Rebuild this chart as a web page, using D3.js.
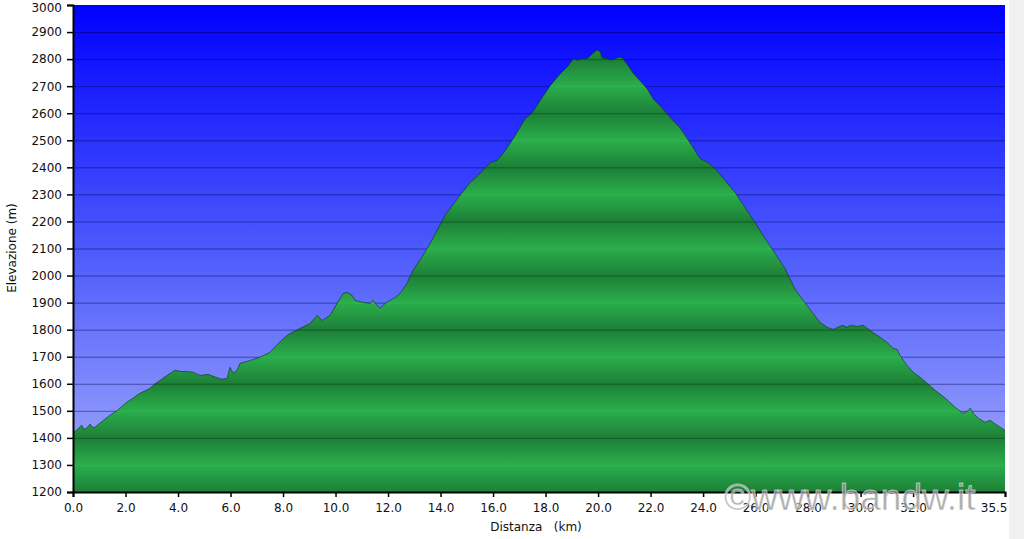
<!DOCTYPE html>
<html><head><meta charset="utf-8">
<script src="https://cdn.jsdelivr.net/npm/d3@7"></script>
<style>
html,body{margin:0;padding:0;background:#fff;}
svg{display:block;}
text{font-family:"DejaVu Sans",Verdana,sans-serif;}
</style></head>
<body>
<svg id="chart" width="1024" height="539"></svg>
<script>
const distKm = [0.00,0.15,0.33,0.42,0.52,0.65,0.75,0.84,1.03,1.20,1.41,1.70,2.05,2.30,2.55,2.93,3.10,3.31,3.60,3.89,4.08,4.30,4.57,4.84,5.14,5.33,5.50,5.68,5.87,5.98,6.10,6.25,6.36,6.55,6.80,7.12,7.50,7.81,8.05,8.27,8.65,9.03,9.30,9.49,9.79,10.06,10.29,10.44,10.63,10.74,11.05,11.31,11.43,11.58,11.70,11.89,12.08,12.27,12.46,12.72,12.95,13.30,13.60,14.17,14.74,15.12,15.50,15.89,16.15,16.46,16.84,17.22,17.49,17.79,18.17,18.55,18.86,19.05,19.24,19.39,19.58,19.77,19.96,20.08,20.15,20.34,20.53,20.65,20.80,20.91,21.10,21.33,21.60,21.87,22.10,22.36,22.63,22.86,23.12,23.50,23.89,24.20,24.46,24.84,25.22,25.60,25.98,26.36,26.74,27.12,27.50,27.81,28.19,28.46,28.72,28.95,29.14,29.30,29.49,29.60,29.87,30.10,30.36,30.74,31.01,31.24,31.39,31.50,31.77,32.00,32.27,32.53,32.84,33.22,33.60,33.90,34.10,34.17,34.30,34.48,34.74,34.93,35.20,35.50];
const elevM = [1418,1430,1447,1432,1436,1451,1438,1440,1455,1468,1484,1502,1532,1548,1565,1583,1598,1612,1632,1650,1646,1645,1643,1631,1635,1628,1622,1617,1620,1661,1639,1650,1676,1680,1688,1698,1716,1748,1770,1786,1805,1823,1853,1834,1853,1897,1934,1938,1927,1908,1901,1897,1908,1890,1879,1897,1908,1919,1934,1971,2019,2070,2118,2222,2296,2343,2377,2417,2425,2461,2517,2580,2602,2646,2701,2745,2775,2801,2797,2801,2801,2819,2834,2827,2805,2801,2797,2801,2808,2805,2782,2749,2720,2690,2653,2627,2598,2572,2546,2491,2432,2417,2395,2351,2307,2251,2196,2137,2082,2026,1950,1908,1860,1827,1809,1801,1809,1816,1809,1816,1812,1816,1797,1772,1753,1731,1727,1705,1668,1643,1624,1602,1576,1547,1513,1491,1500,1510,1490,1473,1458,1465,1447,1428];
const yTicks = [1200,1300,1400,1500,1600,1700,1800,1900,2000,2100,2200,2300,2400,2500,2600,2700,2800,2900,3000];
const xTicks = [0,2,4,6,8,10,12,14,16,18,20,22,24,26,28,30,32,35.5];
const xTitle = "Distanza   (km)";
const yTitle = "Elevazione (m)";
const watermark = "\u00A9www.bandw.it";

const svg = d3.select("#chart");
const L = 73, R = 1005, T = 5, B = 492;
const x = d3.scaleLinear().domain([0, 35.5]).range([L, R]);
const y = d3.scaleLinear().domain([1200, 3000]).range([B, T]);

const defs = svg.append("defs");
const bg = defs.append("linearGradient").attr("id","bg").attr("x1",0).attr("y1",0).attr("x2",0).attr("y2",1);
bg.append("stop").attr("offset","0").attr("stop-color","#0000ff");
bg.append("stop").attr("offset","0.5").attr("stop-color","#4c5afc");
bg.append("stop").attr("offset","1").attr("stop-color","#a4acfa");

const gg = defs.append("linearGradient").attr("id","gg").attr("gradientUnits","userSpaceOnUse")
  .attr("x1",0).attr("x2",0).attr("y1",y(3000)).attr("y2",y(1200));
yTicks.slice().reverse().forEach((v,i)=>{
  gg.append("stop").attr("offset", i/(yTicks.length-1))
    .attr("stop-color", (v/100)%2===0 ? "#1d7f37" : "#2aae4c");
});

// right gray strip
svg.append("rect").attr("x",1009).attr("y",0).attr("width",15).attr("height",539).attr("fill","#f0f0f0");

// plot background
svg.append("rect").attr("x",L).attr("y",T).attr("width",R-L).attr("height",B-T).attr("fill","url(#bg)");

// grid lines (background)
svg.append("g").selectAll("line").data(yTicks.filter(v=>v>1200&&v<3000)).join("line")
  .attr("x1",L).attr("x2",R).attr("y1",d=>y(d)+0.5).attr("y2",d=>y(d)+0.5)
  .attr("stroke","rgba(0,0,70,0.45)").attr("stroke-width",1);

// profile area
const area = d3.area().x((d,i)=>x(distKm[i])).y0(y(1200)).y1(d=>y(d));
svg.append("path").datum(elevM).attr("d",area).attr("fill","url(#gg)");

// grid lines over the green (clipped to area)
defs.append("clipPath").attr("id","ac").append("path").datum(elevM).attr("d",area);
svg.append("g").attr("clip-path","url(#ac)").selectAll("line").data(yTicks.filter(v=>v>1200&&v<3000)).join("line")
  .attr("x1",L).attr("x2",R).attr("y1",d=>y(d)+0.5).attr("y2",d=>y(d)+0.5)
  .attr("stroke",d=>(d/100)%2===0 ? "rgba(15,85,35,0.8)" : "rgba(50,185,85,0.6)").attr("stroke-width",1);

// outline
const line = d3.line().x((d,i)=>x(distKm[i])).y(d=>y(d));
svg.append("path").datum(elevM).attr("d",line).attr("fill","none")
  .attr("stroke","rgba(10,50,25,0.6)").attr("stroke-width",1);

// axes
const yAxis = d3.axisLeft(y).tickValues(yTicks).tickFormat(d3.format("d")).tickSize(6).tickPadding(5);
const gy = svg.append("g").attr("transform",`translate(${L},0)`).call(yAxis);
const xAxis = d3.axisBottom(x).tickValues(xTicks).tickFormat(d3.format(".1f")).tickSize(5).tickPadding(6);
const gx = svg.append("g").attr("transform",`translate(0,${B})`).call(xAxis);
[gy,gx].forEach(g=>{
  g.select(".domain").attr("stroke","#000").attr("stroke-width",2);
  g.selectAll(".tick line").attr("stroke","#000").attr("stroke-width",1.5);
  g.selectAll("text").attr("font-size",12).attr("fill","#111").attr("font-family","DejaVu Sans, Verdana, sans-serif");
});
gx.selectAll(".tick").filter(d=>d===35.5).select("text").attr("text-anchor","end").attr("dx",2);
gy.selectAll(".tick").filter(d=>d===3000).select("text").attr("dy","0.55em");

// titles
svg.append("text").attr("x",536).attr("y",531).attr("text-anchor","middle").attr("font-size",12)
  .attr("fill","#111").style("white-space","pre").text(xTitle);
svg.append("text").attr("transform","translate(16,248) rotate(-90)").attr("text-anchor","middle")
  .attr("font-size",12).attr("fill","#111").text(yTitle);

// watermark
svg.append("text").attr("x",724).attr("y",510)
  .attr("font-size",37).attr("fill","rgba(150,150,150,0.8)").attr("stroke","rgba(255,255,255,0.5)")
  .attr("stroke-width",1).style("font-family","Liberation Sans, Arial, sans-serif").text(watermark);
</script>
</body></html>
